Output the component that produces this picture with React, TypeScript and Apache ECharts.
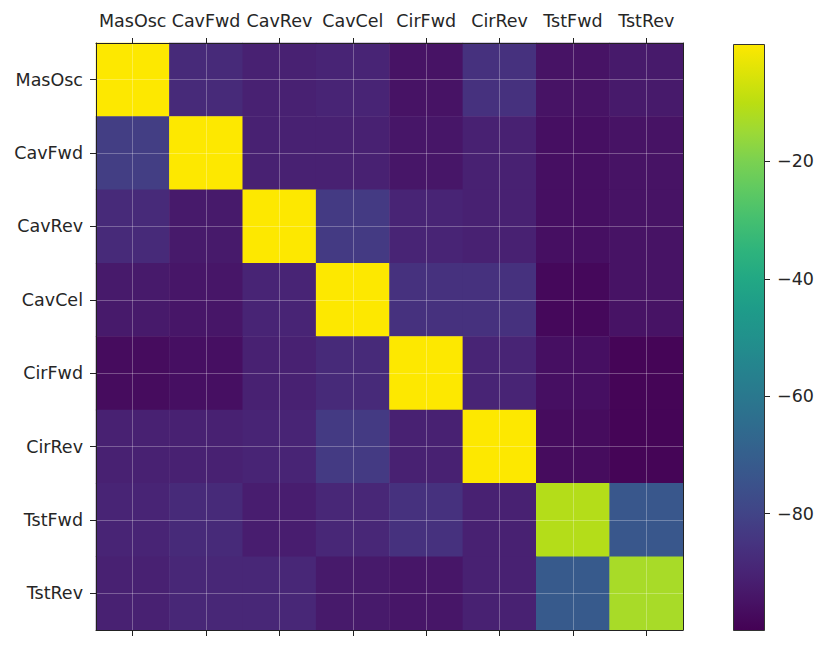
import React, { useEffect, useRef } from "react";
import * as echarts from "echarts";

const categories = ["MasOsc", "CavFwd", "CavRev", "CavCel", "CirFwd", "CirRev", "TstFwd", "TstRev"];

// each row: values of that row (y category) across x categories
const rowMasOsc = [0, -88, -91, -90, -95, -86, -95, -93];
const rowCavFwd = [-82, 0, -91, -91, -94, -91, -96, -95];
const rowCavRev = [-88, -93, 0, -83, -90, -91, -96, -95];
const rowCavCel = [-93, -94, -90, 0, -86, -86, -98, -95];
const rowCirFwd = [-97, -96, -91, -88, 0, -90, -96, -99];
const rowCirRev = [-91, -91, -90, -83, -91, 0, -97, -99];
const rowTstFwd = [-90, -88, -92, -89, -86, -91, -11, -73];
const rowTstRev = [-91, -89, -89, -93, -94, -91, -72, -13];

const rows = [rowMasOsc, rowCavFwd, rowCavRev, rowCavCel, rowCirFwd, rowCirRev, rowTstFwd, rowTstRev];

const colorMin = -100;
const colorMax = 0;
const colorbarTicks = [-80, -60, -40, -20];

const viridis = [
  "#440154", "#471365", "#482475", "#463480", "#414487", "#3b528b", "#355f8d",
  "#2f6c8e", "#2a788e", "#25848e", "#21918c", "#1e9c89", "#22a884", "#2fb47c",
  "#44bf70", "#5ec962", "#7ad151", "#9cd936", "#bade12", "#dce308", "#fde800",
];

const FONT = "DejaVu Sans";
const FONT_SIZE = 17.5;
const TEXT = "#262626";
const LINE = "#222";

export default function App() {
  const ref = useRef<HTMLDivElement>(null);

  useEffect(() => {
    if (!ref.current) return;
    const chart = echarts.init(ref.current, null, { renderer: "svg" });

    const heatData: [number, number, number][] = [];
    rows.forEach((row, yi) => row.forEach((v, xi) => heatData.push([xi, yi, v])));

    const n = viridis.length - 1;
    const gradStops = viridis.map((c, i) => ({ offset: 1 - i / n, color: c })).reverse();

    const catAxisBase = {
      type: "category" as const,
      data: categories,
      gridIndex: 0,
      z: 10,
      axisLine: { show: true, lineStyle: { color: LINE, width: 1 } },
      splitLine: { show: false },
      splitArea: { show: false },
    };

    const option: any = {
      animation: false,
      backgroundColor: "#fff",
      grid: [
        { left: 96, top: 43, width: 587, height: 587, outerBoundsMode: "none", containLabel: false },
        { left: 733, top: 44, width: 32, height: 587, outerBoundsMode: "none", containLabel: false },
      ],
      xAxis: [
        {
          ...catAxisBase,
          position: "top",
          axisTick: { show: true, alignWithLabel: true, length: 5, lineStyle: { color: LINE } },
          axisLabel: { show: true, fontFamily: FONT, fontSize: FONT_SIZE, color: TEXT, margin: 13, interval: 0 },
        },
        {
          ...catAxisBase,
          position: "bottom",
          axisTick: { show: true, alignWithLabel: true, length: 6, lineStyle: { color: LINE } },
          axisLabel: { show: false },
        },
        {
          type: "category",
          data: ["cb"],
          gridIndex: 1,
          show: false,
        },
      ],
      yAxis: [
        {
          ...catAxisBase,
          position: "left",
          inverse: true,
          axisTick: { show: true, alignWithLabel: true, length: 6, lineStyle: { color: LINE } },
          axisLabel: { show: true, fontFamily: FONT, fontSize: FONT_SIZE, color: TEXT, margin: 13, interval: 0 },
        },
        {
          ...catAxisBase,
          position: "right",
          inverse: true,
          axisTick: { show: false },
          axisLabel: { show: false },
        },
        {
          type: "value",
          gridIndex: 1,
          position: "right",
          min: colorMin,
          max: colorMax,
          interval: 20,
          axisLine: { show: false },
          splitLine: { show: false },
          axisTick: {
            show: true,
            length: 5,
            customValues: colorbarTicks,
            lineStyle: { color: LINE },
          },
          axisLabel: {
            show: true,
            customValues: colorbarTicks,
            fontFamily: FONT,
            fontSize: FONT_SIZE,
            color: TEXT,
            margin: 12,
            formatter: (v: number) => (v < 0 ? "\u2212" + Math.abs(v) : String(v)),
          },
        },
      ],
      visualMap: {
        show: false,
        type: "continuous",
        min: colorMin,
        max: colorMax,
        dimension: 2,
        seriesIndex: 0,
        inRange: { color: viridis },
      },
      series: [
        {
          type: "heatmap",
          xAxisIndex: 0,
          yAxisIndex: 0,
          data: heatData,
          itemStyle: { borderWidth: 0 },
          emphasis: { disabled: true },
        },
        {
          type: "line",
          xAxisIndex: 0,
          yAxisIndex: 0,
          data: [],
          z: 5,
          silent: true,
          markLine: {
            silent: true,
            symbol: ["none", "none"],
            label: { show: false },
            lineStyle: { color: "rgba(255,255,255,0.28)", width: 1, type: "solid" },
            emphasis: { disabled: true },
            data: [
              ...categories.map((c) => ({ xAxis: c })),
              ...categories.map((c) => ({ yAxis: c })),
            ],
          },
        },
        {
          type: "bar",
          xAxisIndex: 2,
          yAxisIndex: 2,
          data: [colorMin],
          barWidth: "100%",
          silent: true,
          itemStyle: {
            color: new echarts.graphic.LinearGradient(0, 0, 0, 1, gradStops),
            borderColor: "#333",
            borderWidth: 1,
          },
        },
      ],
    };

    chart.setOption(option);
    return () => chart.dispose();
  }, []);

  return (
    <div
      ref={ref}
      style={{ position: "fixed", left: 0, top: 0, width: 827, height: 652, background: "#fff" }}
    />
  );
}
